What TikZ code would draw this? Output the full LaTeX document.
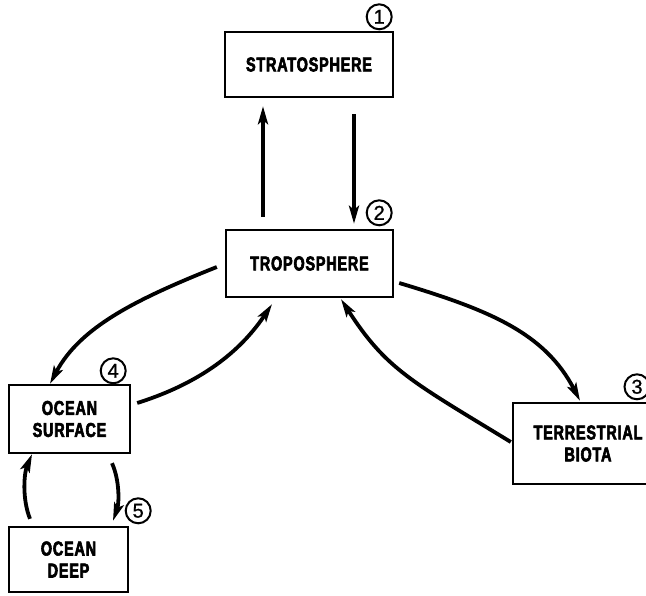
\documentclass[tikz,border=0pt]{standalone}
\usepackage{fontspec}
\setmainfont{Liberation Sans}
\newfontfamily\labfont[FakeStretch=0.72,LetterSpace=4,BoldFeatures={FakeBold=3}]{Liberation Sans}
\newfontfamily\numfont[FakeBold=1]{Liberation Sans}
\usetikzlibrary{arrows.meta,calc}
\begin{document}
\begin{tikzpicture}[x=1pt,y=-1pt,
  box/.style={draw,line width=2.4pt,inner sep=0pt,align=center,
    font=\labfont\bfseries\fontsize{20}{22}\selectfont},
  num/.style={draw,circle,line width=2pt,inner sep=0pt,minimum size=25pt,
    font=\numfont\fontsize{20}{20}\selectfont},
  arr/.style={line width=3.8pt,-{Stealth[length=18pt,width=10pt,inset=4pt]}}]
\useasboundingbox (0,0) rectangle (646,596);
\node[box,minimum width=168pt,minimum height=65pt] (strat) at (309,64.5) {STRATOSPHERE};
\node[box,minimum width=167pt,minimum height=67pt] (trop) at (309.5,263.5) {TROPOSPHERE};
\node[box,minimum width=121pt,minimum height=68pt] (osurf) at (69.5,419) {OCEAN\\SURFACE};
\node[box,minimum width=119pt,minimum height=65pt] (odeep) at (68.5,559.5) {OCEAN\\DEEP};
\node[box,minimum width=150pt,minimum height=81pt] (terr) at (588,443.5) {TERRESTRIAL\\BIOTA};
\node[num] (n1) at ($(strat.north east)+(-15,-14)$) {1};
\node[num] (n2) at ($(trop.north east)+(-15,-16)$) {2};
\node[num] (n3) at ($(terr.north)+(49,-15)$) {3};
\node[num] (n4) at ($(osurf.north east)+(-18,-13)$) {4};
\node[num] (n5) at ($(odeep.north east)+(9,-15)$) {5};
% stratosphere <-> troposphere
\draw[arr] ($(trop.north)+(-46.5,-12)$) -- ($(strat.south)+(-46,8)$);
\draw[arr] ($(strat.south)+(45,16)$) -- ($(trop.north)+(44.5,-5)$);
% troposphere -> ocean surface
\draw[arr] ($(trop.west)+(-8,3.5)$) .. controls +(-80,32) and +(30,-57) .. ($(osurf.north)+(-19.5,0)$);
% ocean surface -> troposphere
\draw[arr] ($(osurf.east)+(6,-16)$) .. controls +(70,-22) and +(-28,42) .. ($(trop.south)+(-37.5,6)$);
% troposphere -> terrestrial biota
\draw[arr] ($(trop.east)+(5,19.5)$) .. controls +(90,27) and +(-35,-68) .. ($(terr.north)+(-8,-1)$);
% terrestrial biota -> troposphere
\draw[arr] ($(terr.west)+(-1,-1.5)$) .. controls +(-100,-61) and +(45,70) .. ($(trop.south)+(31.5,1)$);
% ocean surface -> ocean deep
\draw[arr] ($(osurf.south)+(42.5,9)$) .. controls +(8,18) and +(6,-17) .. ($(odeep.north)+(44.5,-5)$);
% ocean deep -> ocean surface
\draw[arr] ($(odeep.north)+(-38.5,-7)$) .. controls +(-8,-20) and +(-8,19) .. ($(osurf.south)+(-37.5,0)$);
\end{tikzpicture}
\end{document}
